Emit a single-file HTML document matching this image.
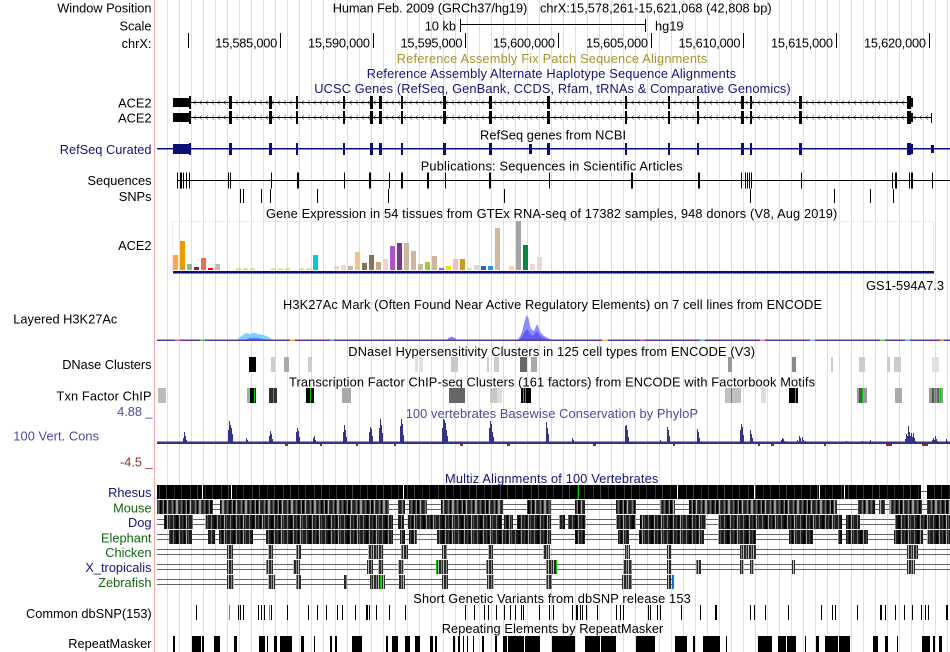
<!DOCTYPE html>
<html><head><meta charset="utf-8"><style>
html,body{margin:0;padding:0;background:#fff;width:950px;height:652px;overflow:hidden}
svg{display:block}
text{font-family:"Liberation Sans",Arial,sans-serif;font-size:12.8px}
</style></head><body>
<svg width="950" height="652" viewBox="0 0 950 652" xmlns="http://www.w3.org/2000/svg" shape-rendering="crispEdges">
<defs>
<pattern id="grid" x="167" y="0" width="12" height="652" patternUnits="userSpaceOnUse"><rect x="0" y="0" width="1" height="652" fill="#dcdcf8"/></pattern>
<pattern id="ch1" x="0" y="97.5" width="6" height="10" patternUnits="userSpaceOnUse"><path d="M4,3 L1.5,5 L4,7" stroke="#555" stroke-width="0.8" fill="none" shape-rendering="auto"/></pattern>
<pattern id="ch2" x="0" y="112.5" width="6" height="10" patternUnits="userSpaceOnUse"><path d="M4,3 L1.5,5 L4,7" stroke="#555" stroke-width="0.8" fill="none" shape-rendering="auto"/></pattern>
<pattern id="pR" x="0" y="0" width="31" height="652" patternUnits="userSpaceOnUse"><rect width="31" height="652" fill="#000"/><rect x="4" width="1" height="652" fill="#3a3a3a"/><rect x="11" width="1" height="652" fill="#444"/><rect x="19" width="1" height="652" fill="#2a2a2a"/><rect x="26" width="1" height="652" fill="#333"/></pattern>
<pattern id="pM" x="0" y="0" width="23" height="652" patternUnits="userSpaceOnUse"><rect width="23" height="652" fill="#3c3c3c"/><rect x="0" width="1" height="652" fill="#111"/><rect x="2" width="1" height="652" fill="#8a8a8a"/><rect x="3" width="2" height="652" fill="#000"/><rect x="6" width="1" height="652" fill="#b0b0b0"/><rect x="8" width="2" height="652" fill="#222"/><rect x="11" width="1" height="652" fill="#777"/><rect x="13" width="1" height="652" fill="#000"/><rect x="15" width="2" height="652" fill="#9a9a9a"/><rect x="18" width="1" height="652" fill="#1a1a1a"/><rect x="20" width="1" height="652" fill="#666"/><rect x="22" width="1" height="652" fill="#000"/></pattern>
<pattern id="pD" x="0" y="0" width="19" height="652" patternUnits="userSpaceOnUse"><rect width="19" height="652" fill="#1e1e1e"/><rect x="2" width="1" height="652" fill="#777"/><rect x="5" width="2" height="652" fill="#000"/><rect x="8" width="1" height="652" fill="#999"/><rect x="11" width="1" height="652" fill="#444"/><rect x="13" width="1" height="652" fill="#000"/><rect x="15" width="1" height="652" fill="#aaa"/><rect x="17" width="1" height="652" fill="#555"/></pattern>
<pattern id="pC" x="0" y="0" width="5" height="652" patternUnits="userSpaceOnUse"><rect width="5" height="652" fill="#2a2a2a"/><rect x="1" width="1" height="652" fill="#888"/><rect x="3" width="1" height="652" fill="#bbb"/></pattern>
</defs>

<!-- grid -->
<rect x="167" y="0" width="782" height="652" fill="url(#grid)"/>
<rect x="154" y="0" width="1" height="652" fill="#f6acac"/>

<!-- header -->
<text x="151.5" y="12.7" text-anchor="end" textLength="94.3" lengthAdjust="spacing">Window Position</text>
<text x="151.5" y="30.5" text-anchor="end">Scale</text>
<text x="151.5" y="47.8" text-anchor="end">chrX:</text>
<text x="332.7" y="12.7" textLength="194.6" lengthAdjust="spacing">Human Feb. 2009 (GRCh37/hg19)</text>
<text x="540" y="12.7" textLength="231.7" lengthAdjust="spacing">chrX:15,578,261-15,621,068 (42,808 bp)</text>
<text x="456" y="30.5" text-anchor="end">10 kb</text>
<rect x="460" y="19" width="1" height="13" fill="#000"/>
<rect x="460" y="24" width="186" height="1" fill="#000"/>
<rect x="645" y="19" width="1" height="13" fill="#000"/>
<text x="655" y="30.5">hg19</text>
<g fill="#000">
<rect x="188" y="33" width="1" height="15"/>
<rect x="280" y="33" width="1" height="15"/>
<rect x="373" y="33" width="1" height="15"/>
<rect x="465" y="33" width="1" height="15"/>
<rect x="558" y="33" width="1" height="15"/>
<rect x="651" y="33" width="1" height="15"/>
<rect x="743" y="33" width="1" height="15"/>
<rect x="836" y="33" width="1" height="15"/>
<rect x="929" y="33" width="1" height="15"/>
</g>
<text x="277.3" y="47.3" text-anchor="end" textLength="62" lengthAdjust="spacing">15,585,000</text>
<text x="370" y="47.3" text-anchor="end" textLength="62" lengthAdjust="spacing">15,590,000</text>
<text x="462.5" y="47.3" text-anchor="end" textLength="62" lengthAdjust="spacing">15,595,000</text>
<text x="555" y="47.3" text-anchor="end" textLength="62" lengthAdjust="spacing">15,600,000</text>
<text x="648" y="47.3" text-anchor="end" textLength="62" lengthAdjust="spacing">15,605,000</text>
<text x="740.5" y="47.3" text-anchor="end" textLength="62" lengthAdjust="spacing">15,610,000</text>
<text x="833" y="47.3" text-anchor="end" textLength="62" lengthAdjust="spacing">15,615,000</text>
<text x="926" y="47.3" text-anchor="end" textLength="62" lengthAdjust="spacing">15,620,000</text>

<text x="396.7" y="63" fill="#a8942c" textLength="310.6" lengthAdjust="spacing">Reference Assembly Fix Patch Sequence Alignments</text>
<text x="366.7" y="78" fill="#14147a" textLength="369.3" lengthAdjust="spacing">Reference Assembly Alternate Haplotype Sequence Alignments</text>
<text x="314.3" y="93" fill="#14147a" textLength="476.4" lengthAdjust="spacing">UCSC Genes (RefSeq, GenBank, CCDS, Rfam, tRNAs &amp; Comparative Genomics)</text>

<!-- ACE2 genes -->
<text x="151.5" y="107.5" text-anchor="end">ACE2</text>
<text x="151.5" y="122.5" text-anchor="end">ACE2</text>
<rect x="190" y="97.5" width="717" height="10" fill="url(#ch1)"/>
<rect x="173" y="102" width="734" height="1" fill="#000"/>
<rect x="190" y="112.5" width="741" height="10" fill="url(#ch2)"/>
<rect x="173" y="117" width="758" height="1" fill="#000"/>
<g fill="#000">
<rect x="173" y="98" width="17" height="9"/><rect x="173" y="113" width="17" height="9"/>
<rect x="189" y="96" width="2" height="13"/><rect x="189" y="111" width="2" height="13"/>
<rect x="229" y="96" width="3" height="13"/><rect x="229" y="111" width="3" height="13"/>
<rect x="269" y="96" width="3" height="13"/><rect x="269" y="111" width="3" height="13"/>
<rect x="296" y="96" width="2" height="13"/><rect x="296" y="111" width="2" height="13"/>
<rect x="343" y="96" width="2" height="13"/><rect x="343" y="111" width="2" height="13"/>
<rect x="370" y="96" width="3" height="13"/><rect x="370" y="111" width="3" height="13"/>
<rect x="379" y="96" width="3" height="13"/><rect x="379" y="111" width="3" height="13"/>
<rect x="401" y="96" width="2" height="13"/><rect x="401" y="111" width="2" height="13"/>
<rect x="443" y="96" width="3" height="13"/><rect x="443" y="111" width="3" height="13"/>
<rect x="489" y="96" width="3" height="13"/><rect x="489" y="111" width="3" height="13"/>
<rect x="547" y="96" width="3" height="13"/><rect x="547" y="111" width="3" height="13"/>
<rect x="625" y="96" width="2" height="13"/><rect x="625" y="111" width="2" height="13"/>
<rect x="668" y="96" width="2" height="13"/><rect x="668" y="111" width="2" height="13"/>
<rect x="697" y="96" width="2" height="13"/><rect x="697" y="111" width="2" height="13"/>
<rect x="741" y="96" width="3" height="13"/><rect x="741" y="111" width="3" height="13"/>
<rect x="750" y="96" width="2" height="13"/><rect x="750" y="111" width="2" height="13"/>
<rect x="799" y="96" width="3" height="13"/><rect x="799" y="111" width="3" height="13"/>
<rect x="907" y="96" width="4" height="13"/><rect x="911" y="98" width="2" height="9"/>
<rect x="907" y="111" width="4" height="13"/><rect x="911" y="113" width="2" height="9"/>
<rect x="931" y="113" width="1" height="10"/>
</g>

<text x="480" y="139.5" textLength="146" lengthAdjust="spacing">RefSeq genes from NCBI</text>
<text x="151.5" y="154" text-anchor="end" fill="#14147a">RefSeq Curated</text>
<g fill="#0c0c78">
<rect x="157" y="148" width="793" height="1.5"/>
<rect x="173" y="144" width="17" height="10"/>
<rect x="189" y="143" width="2" height="12"/>
<rect x="229" y="143" width="3" height="12"/><rect x="269" y="143" width="3" height="12"/><rect x="296" y="143" width="2" height="12"/>
<rect x="343" y="143" width="2" height="12"/><rect x="370" y="143" width="3" height="12"/><rect x="379" y="143" width="3" height="12"/>
<rect x="401" y="143" width="2" height="12"/><rect x="443" y="143" width="3" height="12"/><rect x="489" y="143" width="3" height="12"/>
<rect x="529" y="144" width="3" height="10"/><rect x="547" y="143" width="3" height="12"/><rect x="625" y="143" width="2" height="12"/>
<rect x="668" y="143" width="2" height="12"/><rect x="697" y="143" width="2" height="12"/><rect x="741" y="143" width="3" height="12"/>
<rect x="750" y="143" width="2" height="12"/><rect x="799" y="143" width="3" height="12"/><rect x="907" y="143" width="4" height="12"/><rect x="911" y="144" width="2" height="10"/>
<rect x="931" y="145" width="3" height="8"/>
</g>

<!-- Publications -->
<text x="420.7" y="170.5" textLength="262" lengthAdjust="spacing">Publications: Sequences in Scientific Articles</text>
<text x="151.5" y="185" text-anchor="end">Sequences</text>
<text x="151.5" y="201" text-anchor="end">SNPs</text>
<rect x="177" y="180" width="773" height="1" fill="#000"/>
<g fill="#000">
<rect x="177" y="172.5" width="1" height="16"/><rect x="180" y="172.5" width="2" height="16"/><rect x="183" y="172.5" width="1" height="16"/>
<rect x="186" y="172.5" width="1" height="16"/><rect x="189" y="172.5" width="1" height="16"/>
<rect x="228" y="172.5" width="1" height="16"/><rect x="230" y="172.5" width="1" height="16"/><rect x="271" y="172.5" width="1" height="16"/>
<rect x="297" y="172.5" width="2" height="16"/><rect x="344" y="172.5" width="1" height="16"/><rect x="369" y="172.5" width="2" height="16"/>
<rect x="389" y="172.5" width="1" height="16"/><rect x="401" y="172.5" width="2" height="16"/><rect x="427" y="172.5" width="2" height="16"/>
<rect x="445" y="172.5" width="1" height="16"/><rect x="489" y="172.5" width="2" height="16"/><rect x="549" y="172.5" width="1" height="16"/>
<rect x="631" y="172.5" width="2" height="16"/><rect x="698" y="172.5" width="2" height="16"/><rect x="741" y="172.5" width="1" height="16"/>
<rect x="745" y="172.5" width="1" height="16"/><rect x="747" y="172.5" width="1" height="16"/><rect x="749" y="172.5" width="1" height="16"/><rect x="751" y="172.5" width="1" height="16"/>
<rect x="801" y="172.5" width="1" height="16"/><rect x="892" y="172.5" width="1" height="16"/><rect x="895" y="172.5" width="2" height="16"/>
<rect x="909" y="172.5" width="1" height="16"/><rect x="911" y="172.5" width="2" height="16"/><rect x="932" y="172.5" width="1" height="16"/>
<!-- SNPs -->
<rect x="240" y="189" width="1" height="14"/><rect x="243" y="189" width="1" height="14"/><rect x="261" y="189" width="1" height="14"/>
<rect x="270" y="189" width="1" height="14"/><rect x="317" y="189" width="1" height="14"/><rect x="388" y="189" width="1" height="14"/>
<rect x="504" y="189" width="1" height="14"/><rect x="750" y="189" width="1" height="14"/><rect x="834" y="189" width="1" height="14"/>
<rect x="870" y="189" width="1" height="14"/><rect x="893" y="189" width="1" height="14"/>
</g>

<!-- GTEx -->
<text x="266" y="218" textLength="571.3" lengthAdjust="spacing">Gene Expression in 54 tissues from GTEx RNA-seq of 17382 samples, 948 donors (V8, Aug 2019)</text>
<text x="151.5" y="250" text-anchor="end">ACE2</text>
<rect x="172.5" y="221.5" width="761" height="50" fill="none" stroke="#ececec" stroke-width="1"/>
<g>
<rect x="173" y="255" width="5" height="15" fill="#FFA54F"/>
<rect x="180" y="241" width="5" height="29" fill="#EE9A00"/>
<rect x="187" y="264" width="5" height="6" fill="#8FBC8F"/>
<rect x="194" y="267" width="5" height="3" fill="#8B1C62"/>
<rect x="201" y="258" width="5" height="12" fill="#EE6A50"/>
<rect x="208" y="268" width="5" height="2" fill="#FF0000"/>
<rect x="215" y="264" width="5" height="6" fill="#CDB79E"/>
<rect x="236" y="268.5" width="5" height="1.5" fill="#DDDD40"/>
<rect x="243" y="268.5" width="5" height="1.5" fill="#DDDD40"/>
<rect x="250" y="268.5" width="5" height="1.5" fill="#DDDD40"/>
<rect x="271" y="268.5" width="5" height="1.5" fill="#DDDD40"/>
<rect x="278" y="268.5" width="5" height="1.5" fill="#DDDD40"/>
<rect x="285" y="268.5" width="5" height="1.5" fill="#DDDD40"/>
<rect x="299" y="268.5" width="5" height="1.5" fill="#DDDD40"/>
<rect x="306" y="268.5" width="5" height="1.5" fill="#DDDD40"/>
<rect x="313" y="255" width="5" height="15" fill="#00CDCD"/>
<rect x="334" y="266" width="5" height="4" fill="#EED5D2"/>
<rect x="341" y="265" width="5" height="5" fill="#EED5D2"/>
<rect x="348" y="266" width="5" height="4" fill="#CDB79E"/>
<rect x="355" y="252" width="5" height="18" fill="#EEC591"/>
<rect x="362" y="263" width="5" height="7" fill="#8B7355"/>
<rect x="369" y="255" width="5" height="15" fill="#8B7355"/>
<rect x="376" y="262" width="5" height="8" fill="#CDAA7D"/>
<rect x="383" y="259" width="5" height="11" fill="#EED5D2"/>
<rect x="390" y="246" width="5" height="24" fill="#B452CD"/>
<rect x="397" y="243" width="5" height="27" fill="#7A378B"/>
<rect x="404" y="243" width="5" height="27" fill="#CDB79E"/>
<rect x="411" y="251" width="5" height="19" fill="#CDB79E"/>
<rect x="418" y="264" width="5" height="6" fill="#CDB79E"/>
<rect x="425" y="262" width="5" height="8" fill="#9ACD32"/>
<rect x="432" y="256" width="5" height="14" fill="#CDB79E"/>
<rect x="439" y="268" width="5" height="2" fill="#7A67EE"/>
<rect x="446" y="266" width="5" height="4" fill="#FFD700"/>
<rect x="453" y="259" width="5" height="11" fill="#FFB6C1"/>
<rect x="460" y="259" width="5" height="11" fill="#CD9B1D"/>
<rect x="467" y="268" width="5" height="2" fill="#B4EEB4"/>
<rect x="474" y="265" width="5" height="5" fill="#D9D9D9"/>
<rect x="481" y="266" width="5" height="4" fill="#3A5FCD"/>
<rect x="488" y="266" width="5" height="4" fill="#1E90FF"/>
<rect x="495" y="228" width="5" height="42" fill="#CDB79E"/>
<rect x="509" y="266" width="5" height="4" fill="#FFD39B"/>
<rect x="516" y="221" width="5" height="49" fill="#A6A6A6"/>
<rect x="523" y="245" width="5" height="25" fill="#008B45"/>
<rect x="530" y="264" width="5" height="6" fill="#EED5D2"/>
<rect x="537" y="257" width="5" height="13" fill="#EED5D2"/>
</g>
<rect x="173" y="271" width="761" height="2.5" fill="#0c0c78"/>
<text x="866" y="290" textLength="78" lengthAdjust="spacing">GS1-594A7.3</text>

<!-- H3K27Ac -->
<text x="283" y="309" textLength="539" lengthAdjust="spacing">H3K27Ac Mark (Often Found Near Active Regulatory Elements) on 7 cell lines from ENCODE</text>
<text x="13.3" y="323.3" textLength="104" lengthAdjust="spacing">Layered H3K27Ac</text>
<g shape-rendering="auto">
<polygon points="236,340.5 240,337 243,335 246,333 250,334 254,332.5 258,334 262,334.5 266,336 270,338 273,340.5" fill="#80d0ff"/>
<polygon points="244,340.5 249,338 256,337.5 262,338.5 268,340.5" fill="#5a8cff"/>
<polygon points="446,340.5 449,337.5 452,336.5 455,338 458,340.5" fill="#8c8cf8"/>
<polygon points="517,340.5 520,337 522,332 524,324 526.5,315 528.5,318 530,326 532,330 534,331 536,326 537.5,324.5 539,329 541,333 544,336 548,338 553,340.5" fill="#8a8aff"/>
<polygon points="519,340.5 523,335 527,329 530,334 533,336 537,331 540,336 545,339 549,340.5" fill="#5c5cf0"/>
</g>
<rect x="157" y="339.5" width="793" height="1.5" fill="#5a3a9a"/>
<g>
<rect x="175" y="339.5" width="5" height="1.5" fill="#ff6060"/><rect x="200" y="339.5" width="5" height="1.5" fill="#40c040"/>
<rect x="290" y="339.5" width="5" height="1.5" fill="#ffa040"/><rect x="330" y="339.5" width="4" height="1.5" fill="#40a0ff"/>
<rect x="602" y="339.5" width="6" height="1.5" fill="#ffb060"/><rect x="640" y="339.5" width="5" height="1.5" fill="#c040c0"/>
<rect x="700" y="339.5" width="5" height="1.5" fill="#40c0c0"/><rect x="760" y="339.5" width="5" height="1.5" fill="#ff8080"/>
<rect x="810" y="339.5" width="5" height="1.5" fill="#80c0ff"/><rect x="880" y="339.5" width="5" height="1.5" fill="#60d060"/>
<rect x="905" y="339.5" width="5" height="1.5" fill="#40c0ff"/><rect x="940" y="339.5" width="4" height="1.5" fill="#ff7040"/>
</g>

<!-- DNase -->
<text x="348.3" y="356" textLength="406.7" lengthAdjust="spacing">DNaseI Hypersensitivity Clusters in 125 cell types from ENCODE (V3)</text>
<text x="151.5" y="369" text-anchor="end" textLength="89.3" lengthAdjust="spacing">DNase Clusters</text>
<g>
<rect x="249" y="357" width="7" height="15" fill="#000"/>
<rect x="271" y="357" width="4" height="15" fill="#cccccc"/>
<rect x="284" y="357" width="5" height="15" fill="#aaaaaa"/>
<rect x="308" y="357" width="4" height="15" fill="#cccccc"/>
<rect x="415" y="357" width="3" height="15" fill="#e0e0e0"/><rect x="419" y="357" width="4" height="15" fill="#e0e0e0"/>
<rect x="451" y="357" width="7" height="15" fill="#c8c8c8"/>
<rect x="487" y="357" width="2" height="15" fill="#cccccc"/>
<rect x="494" y="357" width="5" height="15" fill="#cccccc"/>
<rect x="520" y="357" width="7" height="15" fill="#666666"/>
<rect x="531" y="357" width="6" height="15" fill="#aaaaaa"/>
<rect x="728" y="357" width="4" height="15" fill="#999999"/>
<rect x="792" y="357" width="4" height="15" fill="#888888"/>
<rect x="831" y="357" width="2" height="15" fill="#cccccc"/>
<rect x="859" y="357" width="6" height="15" fill="#cccccc"/>
<rect x="887" y="357" width="3" height="15" fill="#cccccc"/>
<rect x="894" y="357" width="7" height="15" fill="#cccccc"/>
<rect x="932" y="357" width="7" height="15" fill="#e0e0e0"/>
</g>

<!-- TF ChIP -->
<text x="289" y="386.7" textLength="526" lengthAdjust="spacing">Transcription Factor ChIP-seq Clusters (161 factors) from ENCODE with Factorbook Motifs</text>
<text x="151.5" y="400.5" text-anchor="end" textLength="95" lengthAdjust="spacing">Txn Factor ChIP</text>
<g>
<rect x="158" y="388" width="8" height="15" fill="#bbbbbb"/>
<rect x="247" y="388" width="3" height="15" fill="#aaaaaa"/><rect x="250" y="388" width="6" height="15" fill="#000"/><rect x="254" y="388" width="1" height="15" fill="#00cc00"/>
<rect x="269" y="388" width="8" height="15" fill="#333"/><rect x="273" y="388" width="1" height="15" fill="#00cc00"/>
<rect x="306" y="388" width="8" height="15" fill="#000"/><rect x="310" y="388" width="1" height="15" fill="#00cc00"/>
<rect x="342" y="388" width="9" height="15" fill="#aaaaaa"/>
<rect x="449" y="388" width="16" height="15" fill="#666666"/>
<rect x="490" y="388" width="7" height="15" fill="#c8c8c8"/><rect x="497" y="388" width="5" height="15" fill="#dddddd"/>
<rect x="521" y="388" width="10" height="15" fill="#000"/><rect x="523" y="388" width="1" height="15" fill="#00cc00"/><rect x="525" y="388" width="1" height="15" fill="#00cc00"/>
<rect x="725" y="388" width="16" height="15" fill="#c0c0c0"/><rect x="731" y="388" width="1" height="15" fill="#00cc00"/>
<rect x="761" y="388" width="5" height="15" fill="#dddddd"/>
<rect x="789" y="388" width="9" height="15" fill="#000"/><rect x="795" y="388" width="1" height="15" fill="#00cc00"/>
<rect x="857" y="388" width="10" height="15" fill="#999999"/><rect x="859" y="388" width="3" height="15" fill="#555"/><rect x="862" y="388" width="1" height="15" fill="#00cc00"/>
<rect x="895" y="388" width="7" height="15" fill="#aaaaaa"/>
<rect x="929" y="388" width="14" height="15" fill="#999999"/><rect x="932" y="388" width="2" height="15" fill="#555"/><rect x="937" y="388" width="2" height="15" fill="#666"/><rect x="935" y="388" width="1" height="15" fill="#00cc00"/><rect x="940" y="388" width="1" height="15" fill="#00cc00"/>
</g>

<!-- Conservation -->
<text x="405.7" y="418" fill="#4b4b9b" textLength="292.3" lengthAdjust="spacing">100 vertebrates Basewise Conservation by PhyloP</text>
<text x="152.7" y="416" text-anchor="end" fill="#4b4b9b">4.88 _</text>
<text x="13.3" y="440.7" fill="#4b4b9b" textLength="85.7" lengthAdjust="spacing">100 Vert. Cons</text>
<text x="152.7" y="466.7" text-anchor="end" fill="#8a3030">-4.5 _</text>
<rect x="157" y="441.5" width="793" height="2.5" fill="#333388"/>
<path fill="#333388" d="M183,444V438h1V444zM184,444V432h1V444zM185,444V436h1V444zM186,444V440h1V444z
M228,444V430h1V444zM229,444V421h1V444zM230,444V425h1V444zM231,444V428h1V444zM232,444V434h1V444z
M246,444V438h1V444zM247,444V440h1V444z
M269,444V436h1V444zM270,444V431h1V444zM271,444V434h1V444zM272,444V439h1V444z
M296,444V432h1V444zM297,444V428h1V444zM298,444V431h1V444zM299,444V437h1V444z
M313,444V438h1V444zM314,444V436h1V444zM315,444V440h1V444z
M343,444V432h1V444zM344,444V425h1V444zM345,444V430h1V444zM346,444V437h1V444z
M369,444V432h1V444zM370,444V427h1V444zM371,444V429h1V444zM372,444V436h1V444z
M379,444V428h1V444zM380,444V419h1V444zM381,444V425h1V444zM382,444V433h1V444z
M400,444V426h1V444zM401,444V419h1V444zM402,444V424h1V444zM403,444V435h1V444z
M442,444V428h1V444zM443,444V419h1V444zM444,444V420h1V444zM445,444V423h1V444zM446,444V430h1V444zM447,444V436h1V444z
M489,444V428h1V444zM490,444V421h1V444zM491,444V424h1V444zM492,444V432h1V444zM493,444V437h1V444z
M546,444V422h1V444zM547,444V428h1V444zM548,444V434h1V444z
M572,444V438h1V444zM573,444V440h1V444z
M625,444V426h1V444zM626,444V425h1V444zM627,444V430h1V444zM628,444V437h1V444z
M660,444V440h1V444z
M667,444V427h1V444zM668,444V430h1V444zM669,444V436h1V444z
M697,444V429h1V444zM698,444V432h1V444zM699,444V438h1V444z
M740,444V430h1V444zM741,444V424h1V444zM742,444V427h1V444zM743,444V435h1V444z
M750,444V430h1V444zM751,444V434h1V444zM752,444V438h1V444z
M781,444V440h1V444zM782,444V438h1V444zM783,444V439h1V444zM784,444V441h1V444z
M797,444V440h1V444zM799,444V436h1V444zM800,444V438h1V444zM802,444V437h1V444zM803,444V440h1V444zM805,444V441h1V444z
M846,444V441h1V444zM862,444V441h1V444zM870,444V440h1V444z
M905,444V439h1V444zM906,444V434h1V444zM907,444V436h1V444zM908,444V426h1V444zM909,444V432h1V444zM910,444V436h1V444zM911,444V433h1V444zM912,444V437h1V444zM913,444V433h1V444zM914,444V438h1V444zM915,444V441h1V444z
M932,444V440h1V444zM933,444V438h1V444zM934,444V440h1V444zM935,444V436h1V444zM936,444V439h1V444zM937,444V441h1V444z
M946,444V439h1V444zM947,444V441h1V444z"/>
<g fill="#8b2a2a">
<rect x="285" y="444" width="3" height="2"/><rect x="320" y="444" width="2" height="2"/><rect x="356" y="444" width="2" height="2"/>
<rect x="394" y="444" width="2" height="2"/><rect x="460" y="444" width="3" height="2"/><rect x="507" y="444" width="3" height="2"/>
<rect x="593" y="444" width="3" height="2"/><rect x="673" y="444" width="2" height="2"/><rect x="758" y="444" width="2" height="2"/>
<rect x="771" y="444" width="3" height="2"/><rect x="824" y="444" width="2" height="2"/><rect x="886" y="444" width="6" height="2"/>
<rect x="922" y="444" width="6" height="2"/>
</g>

<!-- Multiz -->
<text x="445" y="483" fill="#14147a" textLength="213.3" lengthAdjust="spacing">Multiz Alignments of 100 Vertebrates</text>
<text x="151.5" y="497" text-anchor="end" fill="#14147a">Rhesus</text>
<text x="151.5" y="512.5" text-anchor="end" fill="#116611">Mouse</text>
<text x="151.5" y="527" text-anchor="end" fill="#14147a">Dog</text>
<text x="151.5" y="542.5" text-anchor="end" fill="#116611">Elephant</text>
<text x="151.5" y="557" text-anchor="end" fill="#116611">Chicken</text>
<text x="151.5" y="572" text-anchor="end" fill="#14147a">X_tropicalis</text>
<text x="151.5" y="587" text-anchor="end" fill="#116611">Zebrafish</text>

<!-- gap lines -->
<g fill="#666">
<rect x="157" y="504" width="793" height="1"/><rect x="157" y="509" width="793" height="1"/>
<rect x="157" y="519" width="793" height="1"/><rect x="157" y="524" width="793" height="1"/>
<rect x="157" y="534" width="793" height="1"/><rect x="157" y="539" width="793" height="1"/>
<rect x="157" y="549" width="793" height="1"/><rect x="157" y="554" width="793" height="1"/>
<rect x="157" y="564" width="793" height="1"/><rect x="157" y="569" width="793" height="1"/>
<rect x="157" y="579" width="515" height="1"/><rect x="157" y="584" width="515" height="1"/>
<rect x="921" y="491" width="6" height="1"/>
</g>
<!-- Rhesus -->
<rect x="157" y="485" width="764" height="14" fill="url(#pR)"/>
<rect x="927" y="485" width="23" height="14" fill="url(#pR)"/>
<g fill="#fff">
<rect x="202" y="485" width="1" height="14"/><rect x="231" y="485" width="1" height="14"/><rect x="403" y="485" width="1" height="14"/>
<rect x="677" y="485" width="1" height="14"/><rect x="754" y="485" width="1" height="14"/><rect x="819" y="485" width="1" height="14"/><rect x="844" y="485" width="1" height="14"/>
</g>
<rect x="578" y="485" width="1" height="14" fill="#00cc00"/>
<!-- Mouse -->
<g fill="url(#pM)">
<rect x="157" y="500" width="56" height="14"/><rect x="220" y="500" width="169" height="14"/><rect x="398" y="500" width="7" height="14"/>
<rect x="409" y="500" width="18" height="14"/><rect x="441" y="500" width="62" height="14"/><rect x="527" y="500" width="24" height="14"/>
<rect x="575" y="500" width="10" height="14"/><rect x="616" y="500" width="20" height="14"/><rect x="660" y="500" width="15" height="14"/>
<rect x="689" y="500" width="148" height="14"/><rect x="858" y="500" width="17" height="14"/><rect x="879" y="500" width="6" height="14"/>
<rect x="889" y="500" width="33" height="14"/><rect x="927" y="500" width="23" height="14"/>
</g>
<!-- Dog -->
<g fill="url(#pD)">
<rect x="164" y="515" width="29" height="14"/><rect x="205" y="515" width="188" height="14"/><rect x="398" y="515" width="6" height="14"/>
<rect x="408" y="515" width="94" height="14"/><rect x="504" y="515" width="9" height="14"/><rect x="517" y="515" width="34" height="14"/>
<rect x="559" y="515" width="6" height="14"/><rect x="568" y="515" width="18" height="14"/><rect x="616" y="515" width="20" height="14"/>
<rect x="640" y="515" width="66" height="14"/><rect x="718" y="515" width="124" height="14"/><rect x="846" y="515" width="14" height="14"/>
<rect x="895" y="515" width="55" height="14"/>
</g>
<!-- Elephant -->
<g fill="url(#pD)">
<rect x="169" y="530" width="23" height="14"/><rect x="208" y="530" width="7" height="14"/><rect x="219" y="530" width="34" height="14"/>
<rect x="266" y="530" width="127" height="14"/><rect x="400" y="530" width="5" height="14"/><rect x="409" y="530" width="8" height="14"/>
<rect x="437" y="530" width="114" height="14"/><rect x="575" y="530" width="10" height="14"/><rect x="618" y="530" width="11" height="14"/>
<rect x="639" y="530" width="65" height="14"/><rect x="718" y="530" width="38" height="14"/><rect x="789" y="530" width="24" height="14"/>
<rect x="838" y="530" width="4" height="14"/><rect x="846" y="530" width="22" height="14"/><rect x="894" y="530" width="29" height="14"/>
<rect x="927" y="530" width="23" height="14"/>
</g>
<!-- Chicken -->
<g fill="url(#pC)">
<rect x="227" y="545" width="6" height="14"/><rect x="268" y="545" width="5" height="14"/><rect x="296" y="545" width="5" height="14"/>
<rect x="368" y="545" width="15" height="14"/><rect x="401" y="545" width="7" height="14"/><rect x="442" y="545" width="5" height="14"/>
<rect x="488" y="545" width="5" height="14"/><rect x="543" y="545" width="7" height="14"/><rect x="625" y="545" width="5" height="14"/>
<rect x="667" y="545" width="4" height="14"/><rect x="740" y="545" width="16" height="14"/><rect x="907" y="545" width="11" height="14"/>
</g>
<!-- X_tropicalis -->
<g fill="url(#pC)">
<rect x="227" y="560" width="6" height="14"/><rect x="266" y="560" width="7" height="14"/><rect x="293" y="560" width="7" height="14"/>
<rect x="367" y="560" width="6" height="14"/><rect x="378" y="560" width="5" height="14"/><rect x="398" y="560" width="6" height="14"/>
<rect x="436" y="560" width="12" height="14"/><rect x="486" y="560" width="7" height="14"/><rect x="546" y="560" width="10" height="14"/>
<rect x="623" y="560" width="9" height="14"/><rect x="667" y="560" width="4" height="14"/><rect x="696" y="560" width="5" height="14"/>
<rect x="740" y="560" width="4" height="14"/><rect x="750" y="560" width="4" height="14"/><rect x="792" y="560" width="3" height="14"/>
<rect x="907" y="560" width="8" height="14"/>
</g>
<rect x="436" y="560" width="1" height="14" fill="#00cc00"/><rect x="556" y="560" width="1" height="14" fill="#00cc00"/>
<!-- Zebrafish -->
<g fill="url(#pC)">
<rect x="227" y="575" width="7" height="14"/><rect x="268" y="575" width="7" height="14"/><rect x="296" y="575" width="5" height="14"/>
<rect x="344" y="575" width="3" height="14"/><rect x="370" y="575" width="15" height="14"/><rect x="399" y="575" width="6" height="14"/>
<rect x="442" y="575" width="6" height="14"/><rect x="487" y="575" width="7" height="14"/><rect x="546" y="575" width="6" height="14"/>
<rect x="622" y="575" width="10" height="14"/><rect x="667" y="575" width="4" height="14"/>
</g>
<rect x="371" y="575" width="1" height="14" fill="#00cc00"/><rect x="380" y="575" width="1" height="14" fill="#00cc00"/>
<rect x="672" y="575" width="2" height="14" fill="#1070d0"/>

<!-- dbSNP -->
<text x="413.3" y="603" textLength="277.4" lengthAdjust="spacing">Short Genetic Variants from dbSNP release 153</text>
<text x="151.7" y="618" text-anchor="end" textLength="125.7" lengthAdjust="spacing">Common dbSNP(153)</text>
<path stroke="#000" stroke-width="1" fill="none" d="M196.5,605v15M238.5,605v15M240.5,605v15M243.5,605v15M258.5,605v15M261.5,605v15M264.5,605v15M271.5,605v15M287.5,605v15M308.5,605v15M317.5,605v15M326.5,605v15M337.5,605v15M342.5,605v15M355.5,605v15M366.5,605v15M367.5,605v15M369.5,605v15M376.5,605v15M389.5,605v15M405.5,605v15M465.5,605v15M474.5,605v15M484.5,605v15M488.5,605v15M496.5,605v15M504.5,605v15M510.5,605v15M515.5,605v15M521.5,605v15M523.5,605v15M539.5,605v15M549.5,605v15M553.5,605v15M572.5,605v15M576.5,605v15M577.5,605v15M580.5,605v15M582.5,605v15M586.5,605v15M597.5,605v15M616.5,605v15M620.5,605v15M623.5,605v15M648.5,605v15M650.5,605v15M657.5,605v15M660.5,605v15M681.5,605v15M700.5,605v15M715.5,605v15M716.5,605v15M750.5,605v15M754.5,605v15M765.5,605v15M788.5,605v15M821.5,605v15M832.5,605v15M835.5,605v15M857.5,605v15M880.5,605v15M881.5,605v15M885.5,605v15M895.5,605v15M904.5,605v15M912.5,605v15M921.5,605v15M925.5,605v15M928.5,605v15M946.5,605v15M947.5,605v15"/>
<path stroke="#00cc00" stroke-width="1" fill="none" d="M229.5,605v15M269.5,605v15"/>

<!-- RepeatMasker -->
<text x="441.7" y="633" textLength="221.6" lengthAdjust="spacing">Repeating Elements by RepeatMasker</text>
<text x="151.5" y="648" text-anchor="end">RepeatMasker</text>
<g fill="#000">
<rect x="173" y="636" width="2" height="16"/><rect x="192" y="636" width="9" height="16"/><rect x="202" y="636" width="2" height="16"/>
<rect x="214" y="636" width="6" height="16"/><rect x="234" y="636" width="3" height="16"/><rect x="259" y="636" width="6" height="16"/>
<rect x="267" y="636" width="1" height="16"/><rect x="274" y="636" width="3" height="16"/><rect x="280" y="636" width="12" height="16"/>
<rect x="301" y="636" width="3" height="16"/><rect x="314" y="636" width="1" height="16"/><rect x="330" y="636" width="2" height="16"/>
<rect x="335" y="636" width="2" height="16"/><rect x="352" y="636" width="10" height="16"/><rect x="386" y="636" width="2" height="16"/>
<rect x="392" y="636" width="6" height="16"/><rect x="405" y="636" width="5" height="16"/><rect x="415" y="636" width="5" height="16"/>
<rect x="430" y="636" width="3" height="16"/><rect x="435" y="636" width="2" height="16"/><rect x="453" y="636" width="2" height="16"/>
<rect x="458" y="636" width="2" height="16"/><rect x="463" y="636" width="1" height="16"/><rect x="467" y="636" width="1" height="16"/>
<rect x="473" y="636" width="1" height="16"/><rect x="482" y="636" width="2" height="16"/><rect x="495" y="636" width="2" height="16"/>
<rect x="503" y="636" width="4" height="16"/><rect x="508" y="636" width="32" height="16"/><rect x="552" y="636" width="23" height="16"/>
<rect x="585" y="636" width="31" height="16"/><rect x="636" y="636" width="19" height="16"/><rect x="675" y="636" width="12" height="16"/>
<rect x="693" y="636" width="2" height="16"/><rect x="703" y="636" width="17" height="16"/><rect x="726" y="636" width="1" height="16"/>
<rect x="758" y="636" width="14" height="16"/><rect x="778" y="636" width="18" height="16"/><rect x="805" y="636" width="1" height="16"/>
<rect x="816" y="636" width="3" height="16"/><rect x="825" y="636" width="25" height="16"/><rect x="873" y="636" width="5" height="16"/>
<rect x="885" y="636" width="3" height="16"/><rect x="897" y="636" width="1" height="16"/><rect x="922" y="636" width="8" height="16"/>
<rect x="933" y="636" width="2" height="16"/><rect x="939" y="636" width="3" height="16"/>
</g>
<g fill="#fff">
<rect x="524" y="636" width="1" height="16"/><rect x="600" y="636" width="1" height="16"/><rect x="786" y="636" width="1" height="16"/><rect x="838" y="636" width="1" height="16"/>
</g>
</svg>
</body></html>
